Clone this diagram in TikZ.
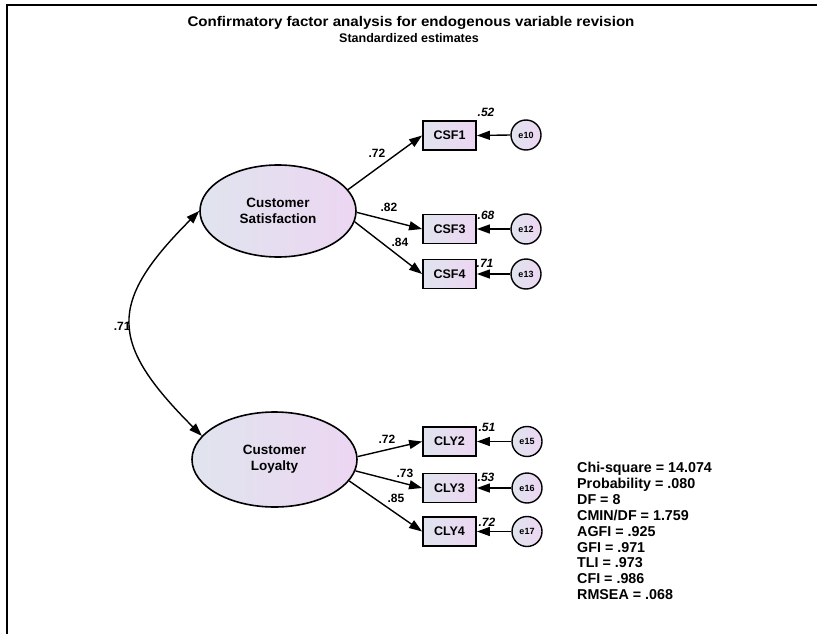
\documentclass[tikz,border=0pt]{standalone}
\usepackage{fontspec}
\setmainfont{Liberation Sans}
\usetikzlibrary{arrows.meta,shapes.geometric}
\definecolor{shadeL}{RGB}{224,228,238}
\definecolor{shadeR}{RGB}{236,214,242}
\begin{document}
\begin{tikzpicture}[x=1pt,y=-1pt,
  latent/.style={ellipse,draw,line width=1.6pt,left color=shadeL,right color=shadeR,
    inner sep=0pt,align=center,font=\fontsize{13.5}{16}\selectfont\bfseries},
  observed/.style={rectangle,draw,line width=1.8pt,left color=shadeL,right color=shadeR,
    minimum width=53pt,minimum height=29pt,inner sep=0pt,font=\fontsize{12.5}{14}\selectfont\bfseries},
  errvar/.style={circle,draw,line width=1.4pt,left color=shadeL,right color=shadeR,
    minimum size=30pt,inner sep=0pt,font=\fontsize{9}{10}\selectfont\bfseries},
  regpath/.style={line width=1.4pt,-{Triangle[length=13pt,width=9pt]}},
  covpath/.style={line width=1.4pt,{Triangle[length=13pt,width=9pt]}-{Triangle[length=13pt,width=9pt]}},
  coef/.style={font=\fontsize{12}{14}\selectfont\bfseries},
  rsq/.style={font=\fontsize{12}{14}\selectfont\bfseries\itshape},
]
\useasboundingbox (0,0) rectangle (817,634);

% frame
\draw[line width=2.4pt] (7,634) -- (7,5) -- (817,5);

% title
\node[font=\fontsize{14}{16}\selectfont\bfseries,inner sep=0pt] (title1) at (411,23)
  {\scalebox{1.08}[1]{Confirmatory factor analysis for endogenous variable revision}};
\node[font=\fontsize{12.5}{14}\selectfont\bfseries,inner sep=0pt] (title2) at (409,38)
  {Standardized estimates};

% latent variables
\node[latent,minimum width=156pt,minimum height=92pt] (cs) at (278,211) {Customer\\Satisfaction};
\node[latent,minimum width=165pt,minimum height=95pt] (cl) at (274.5,459.5) {Customer\\Loyalty};

% indicators
\node[observed] (csf1) at (449.5,135.5) {CSF1};
\node[observed] (csf3) at (449.5,229) {CSF3};
\node[observed] (csf4) at (449.5,274) {CSF4};
\node[observed] (cly2) at (449.5,441.5) {CLY2};
\node[observed] (cly3) at (449.5,488) {CLY3};
\node[observed] (cly4) at (449.5,531.5) {CLY4};

% error terms
\node[errvar] (e10) at (526,135) {e10};
\node[errvar] (e12) at (526,229) {e12};
\node[errvar] (e13) at (526,274) {e13};
\node[errvar] (e15) at (527,441.5) {e15};
\node[errvar] (e16) at (527,488) {e16};
\node[errvar] (e17) at (527,531.5) {e17};

% loadings
\draw[regpath] (cs.17) -- (csf1.west);
\draw[regpath] (cs.-1) -- (csf3.west);
\draw[regpath] (cs.-8.5) -- (csf4.west);
\draw[regpath] (cl.2) -- (cly2.west);
\draw[regpath] (cl.-8.5) -- (cly3.west);
\draw[regpath] (cl.-16) -- (cly4.west);

% error paths
\foreach \e/\v in {e10/csf1,e12/csf3,e13/csf4,e15/cly2,e16/cly3,e17/cly4}
  \draw[regpath] (\e.west) -- (\v.east);

% covariance
\draw[covpath] (cs.west) .. controls +(-92,92) and +(-93,-93) .. (cl.162);
\node[coef,anchor=east] (r71) at (134,326) {.71};

% standardized loadings
\node[coef] (l1) at (377,153) {.72};
\node[coef] (l3) at (389,207) {.82};
\node[coef] (l4) at (400,242) {.84};
\node[coef] (l5) at (387,439) {.72};
\node[coef] (l6) at (405,473) {.73};
\node[coef] (l7) at (396,498) {.85};

% squared multiple correlations
\node[rsq] (s1) at (486,112) {.52};
\node[rsq] (s3) at (486,215) {.68};
\node[rsq] (s4) at (485,263) {.71};
\node[rsq] (s5) at (487,427) {.51};
\node[rsq] (s6) at (486,477) {.53};
\node[rsq] (s7) at (487,522) {.72};

% fit indices
\node[anchor=north west,align=left,inner sep=0pt,font=\fontsize{14.3}{15.9}\selectfont\bfseries] (fit) at (577,462)
  {Chi-square = 14.074\\Probability = .080\\DF = 8\\CMIN/DF = 1.759\\AGFI = .925\\GFI = .971\\TLI = .973\\CFI = .986\\RMSEA = .068};
\end{tikzpicture}
\end{document}
